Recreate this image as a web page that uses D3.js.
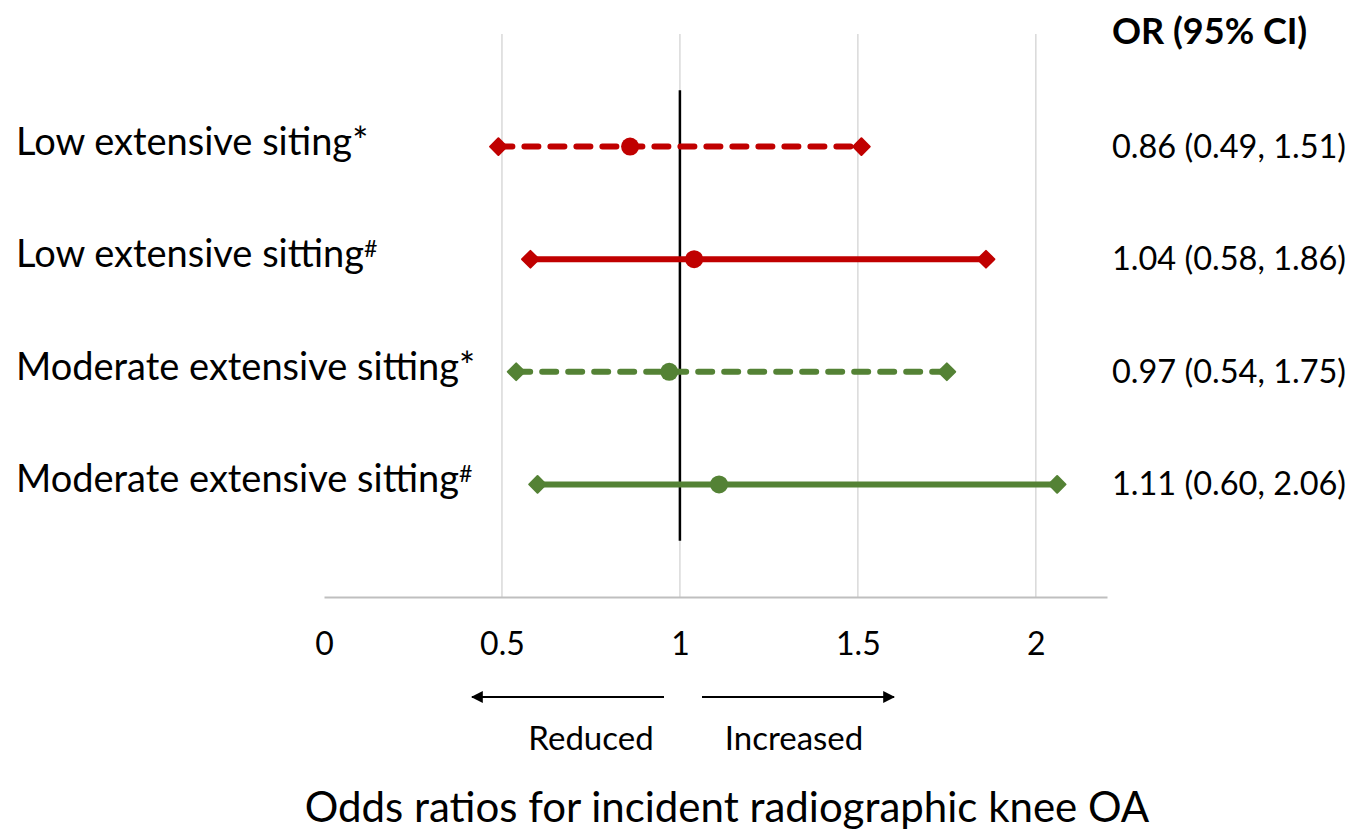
<!DOCTYPE html>
<html>
<head>
<meta charset="utf-8">
<script src="https://cdn.jsdelivr.net/npm/d3@7"></script>
<style>
  body { margin: 0; background: #fff; }
  text { font-family: Lato, "Noto Sans", sans-serif; fill: #000; }
</style>
</head>
<body>
<div id="chart"></div>
<script>
// forest plot: odds ratios with 95% CI, one row per model

var labels = ["Low extensive siting", "Low extensive sitting", "Moderate extensive sitting", "Moderate extensive sitting"];
var marks = ["*", "#", "*", "#"];
var oddsRatios = [0.86, 1.04, 0.97, 1.11];
var lowerCI = [0.49, 0.58, 0.54, 0.60];
var upperCI = [1.51, 1.86, 1.75, 2.06];
var rowPos = [4, 3, 2, 1];           // position on the hidden y axis (0..5)
var seriesColors = ["#C00000", "#C00000", "#548235", "#548235"];
var dashed = [true, false, true, false];
var xTicks = [0, 0.5, 1, 1.5, 2];
var ciText = ["0.86 (0.49, 1.51)", "1.04 (0.58, 1.86)", "0.97 (0.54, 1.75)", "1.11 (0.60, 2.06)"];

var W = 1354, H = 832;
var svg = d3.select("#chart").append("svg")
    .attr("width", W)
    .attr("height", H);

var x = d3.scaleLinear().domain([0, 2.2]).range([324, 1107]);
var y = d3.scaleLinear().domain([0, 5]).range([597, 34]);

// vertical gridlines
svg.append("g").selectAll("line")
    .data(xTicks.filter(function(d) { return d > 0; }))
    .enter().append("line")
    .attr("x1", function(d) { return x(d); })
    .attr("x2", function(d) { return x(d); })
    .attr("y1", y(5))
    .attr("y2", y(0))
    .attr("stroke", "#d9d9d9")
    .attr("stroke-width", 1.5);

// x axis line + labels
var xAxis = svg.append("g")
    .attr("transform", "translate(0," + y(0) + ")")
    .call(d3.axisBottom(x).tickValues(xTicks).tickSize(0).tickPadding(35)
        .tickFormat(function(d) { return String(d); }));
xAxis.select(".domain").attr("stroke", "#bfbfbf").attr("stroke-width", 2);
xAxis.selectAll("text")
    .style("font-family", "Lato, 'Noto Sans', sans-serif")
    .style("font-size", "32px")
    .attr("fill", "#000");

// reference line at OR = 1
svg.append("line")
    .attr("x1", x(1)).attr("x2", x(1))
    .attr("y1", y(4.5)).attr("y2", y(0.5))
    .attr("stroke", "#000")
    .attr("stroke-width", 2.5);

var rows = d3.range(labels.length);

// CI lines
svg.append("g").selectAll("line")
    .data(rows)
    .enter().append("line")
    .attr("x1", function(i) { return x(lowerCI[i]); })
    .attr("x2", function(i) { return x(upperCI[i]); })
    .attr("y1", function(i) { return y(rowPos[i]); })
    .attr("y2", function(i) { return y(rowPos[i]); })
    .attr("stroke", function(i) { return seriesColors[i]; })
    .attr("stroke-width", 6)
    .attr("stroke-linecap", "round")
    .attr("stroke-dasharray", function(i) { return dashed[i] ? "14,12" : null; });

// diamond end markers
var diamond = d3.symbol().type(d3.symbolSquare).size(140);
var ends = [];
rows.forEach(function(i) {
    ends.push({ v: lowerCI[i], i: i });
    ends.push({ v: upperCI[i], i: i });
});
svg.append("g").selectAll("path")
    .data(ends)
    .enter().append("path")
    .attr("d", diamond)
    .attr("transform", function(d) {
        return "translate(" + x(d.v) + "," + y(rowPos[d.i]) + ") rotate(45)";
    })
    .attr("fill", function(d) { return seriesColors[d.i]; })
    .attr("stroke", function(d) { return seriesColors[d.i]; })
    .attr("stroke-width", 2)
    .attr("stroke-linejoin", "round");

// point estimates
svg.append("g").selectAll("circle")
    .data(rows)
    .enter().append("circle")
    .attr("cx", function(i) { return x(oddsRatios[i]); })
    .attr("cy", function(i) { return y(rowPos[i]); })
    .attr("r", 9)
    .attr("fill", function(i) { return seriesColors[i]; });

// row labels on the left
var lab = svg.append("g").selectAll("text")
    .data(rows)
    .enter().append("text")
    .attr("x", 16)
    .attr("y", function(i) { return y(rowPos[i]) + 8; })
    .style("font-size", "38px");
lab.append("tspan").text(function(i) { return labels[i]; });
lab.append("tspan")
    .attr("dy", function(i) { return marks[i] === "#" ? -10 : 0; })
    .style("font-size", function(i) { return marks[i] === "#" ? "23px" : "38px"; })
    .text(function(i) { return marks[i]; });

// OR (95% CI) column
svg.append("text")
    .attr("x", 1112)
    .attr("y", 44)
    .style("font-size", "36px")
    .style("font-weight", "bold")
    .text("OR (95% CI)");

svg.append("g").selectAll("text")
    .data(rows)
    .enter().append("text")
    .attr("x", 1112)
    .attr("y", function(i) { return y(rowPos[i]) + 11; })
    .style("font-size", "32.5px")
    .text(function(i) { return ciText[i]; });

// direction arrows
svg.append("defs").append("marker")
    .attr("id", "arrow")
    .attr("viewBox", "0 0 10 10")
    .attr("refX", 9).attr("refY", 5)
    .attr("markerWidth", 6).attr("markerHeight", 6)
    .attr("orient", "auto")
    .append("path")
    .attr("d", "M0,0 L10,5 L0,10 z")
    .attr("fill", "#000");

svg.append("line")
    .attr("x1", 664).attr("x2", 472)
    .attr("y1", 697).attr("y2", 697)
    .attr("stroke", "#000").attr("stroke-width", 2)
    .attr("marker-end", "url(#arrow)");
svg.append("line")
    .attr("x1", 702).attr("x2", 894)
    .attr("y1", 697).attr("y2", 697)
    .attr("stroke", "#000").attr("stroke-width", 2)
    .attr("marker-end", "url(#arrow)");

svg.append("text")
    .attr("x", 591).attr("y", 750)
    .attr("text-anchor", "middle")
    .style("font-size", "33px")
    .text("Reduced");
svg.append("text")
    .attr("x", 794).attr("y", 750)
    .attr("text-anchor", "middle")
    .style("font-size", "33px")
    .text("Increased");

// axis title
svg.append("text")
    .attr("x", 727).attr("y", 822)
    .attr("text-anchor", "middle")
    .style("font-size", "42px")
    .text("Odds ratios for incident radiographic knee OA");
</script>
</body>
</html>
